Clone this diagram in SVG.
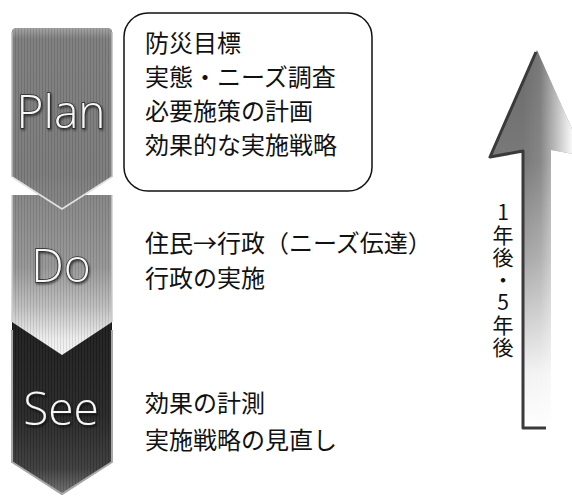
<svg xmlns="http://www.w3.org/2000/svg" width="572" height="496" viewBox="0 0 572 496">
<defs>
<style>
.jp{font-family:"Noto Sans CJK JP","Noto Sans",sans-serif;font-size:24px;fill:#111}
.lbl{font-family:"Open Sans","Noto Sans",sans-serif;font-weight:300;font-size:46px;fill:#f7f7f7;stroke:#2a2a2a;stroke-width:1.4;paint-order:stroke;text-anchor:middle}
.vt{font-family:"Noto Sans CJK JP","Noto Sans",sans-serif;font-size:21px;fill:#111;writing-mode:vertical-rl;text-orientation:upright;letter-spacing:1.5px}
</style>
<pattern id="stripes" width="3" height="10" patternUnits="userSpaceOnUse">
<rect x="0" y="0" width="1" height="10" fill="#000" opacity="0.09"/>
<rect x="1.5" y="0" width="1" height="10" fill="#fff" opacity="0.07"/>
</pattern>
<filter id="sh" x="-10%" y="-10%" width="130%" height="130%">
<feDropShadow dx="1" dy="1.5" stdDeviation="0.8" flood-color="#000" flood-opacity="0.6"/>
</filter>
<linearGradient id="gPlan" x1="0" y1="28" x2="0" y2="210" gradientUnits="userSpaceOnUse">
<stop offset="0" stop-color="#a0a0a0"/>
<stop offset="0.06" stop-color="#7c7c7c"/>
<stop offset="0.8" stop-color="#7a7a7a"/>
<stop offset="1" stop-color="#858585"/>
</linearGradient>
<linearGradient id="gDo" x1="0" y1="195" x2="0" y2="355" gradientUnits="userSpaceOnUse">
<stop offset="0" stop-color="#858585"/>
<stop offset="0.45" stop-color="#959595"/>
<stop offset="0.7" stop-color="#bdbdbd"/>
<stop offset="0.9" stop-color="#ececec"/>
<stop offset="1" stop-color="#f4f4f4"/>
</linearGradient>
<linearGradient id="gSee" x1="0" y1="318" x2="0" y2="495" gradientUnits="userSpaceOnUse">
<stop offset="0" stop-color="#1c1c1c"/>
<stop offset="0.55" stop-color="#262626"/>
<stop offset="0.85" stop-color="#3c3c3c"/>
<stop offset="1" stop-color="#707070"/>
</linearGradient>
<linearGradient id="gArrV" x1="0" y1="50" x2="0" y2="430" gradientUnits="userSpaceOnUse">
<stop offset="0" stop-color="#6a6a6a"/>
<stop offset="0.3" stop-color="#7a7a7a"/>
<stop offset="0.55" stop-color="#a8a8a8"/>
<stop offset="0.85" stop-color="#f2f2f2"/>
<stop offset="1" stop-color="#ffffff"/>
</linearGradient>
<linearGradient id="gArrH" x1="523" y1="0" x2="572" y2="0" gradientUnits="userSpaceOnUse">
<stop offset="0" stop-color="#fff" stop-opacity="0"/>
<stop offset="0.35" stop-color="#fff" stop-opacity="0.1"/>
<stop offset="1" stop-color="#fff" stop-opacity="0.95"/>
</linearGradient>
</defs>
<rect width="572" height="496" fill="#fff"/>

<g id="see">
<path d="M12,318 L112,318 L112,462 L62,495 L12,462 Z" fill="url(#gSee)"/>
<path d="M12,318 L112,318 L112,462 L62,495 L12,462 Z" fill="url(#stripes)"/>
<path d="M12,330 L12,462 L62,494 L112,462 L112,330" fill="none" stroke="#a8a8a8" stroke-width="2"/>
<text class="lbl" x="61" y="425" filter="url(#sh)">See</text>
</g>

<g id="do">
<path d="M12,195 L112,195 L112,322 L62,355 L12,322 Z" fill="url(#gDo)"/>
<path d="M12,195 L112,195 L112,322 L62,355 L12,322 Z" fill="url(#stripes)"/>
<path d="M12,195 L12,322 M112,195 L112,322" fill="none" stroke="#d0d0d0" stroke-width="1.5"/>
<text class="lbl" x="61" y="282" filter="url(#sh)">Do</text>
</g>

<g id="plan">
<path d="M12,32 Q12,28 16,28 L108,28 Q112,28 112,32 L112,177 L62,210 L12,177 Z" fill="url(#gPlan)"/>
<path d="M12,32 Q12,28 16,28 L108,28 Q112,28 112,32 L112,177 L62,210 L12,177 Z" fill="url(#stripes)"/>
<path d="M12,32 L12,177 M112,32 L112,177" fill="none" stroke="#bdbdbd" stroke-width="1.5"/>
<path d="M12,177 L62,209 L112,177" fill="none" stroke="#e2e2e2" stroke-width="1.5"/>
<text class="lbl" x="61" y="128" filter="url(#sh)">Plan</text>
</g>

<g id="plan-box">
<rect x="124" y="13" width="248" height="178" rx="24" ry="24" fill="#fff" stroke="#111" stroke-width="1.5"/>
<text class="jp" x="145" y="52">防災目標</text>
<text class="jp" x="145" y="86">実態・ニーズ調査</text>
<text class="jp" x="145" y="120">必要施策の計画</text>
<text class="jp" x="145" y="154">効果的な実施戦略</text>
</g>

<g id="do-text">
<text class="jp" x="145" y="252">住民→行政（ニーズ伝達）</text>
<text class="jp" x="145" y="287">行政の実施</text>
</g>

<g id="see-text">
<text class="jp" x="145" y="412">効果の計測</text>
<text class="jp" x="145" y="449">実施戦略の見直し</text>
</g>

<g id="time-arrow">
<path d="M537,50 L584,156 L551,150 L551,428 L523,428 L523,150 L490,157 Z" fill="url(#gArrV)"/>
<path d="M537,50 L584,156 L551,150 L551,428 L523,428 L523,150 L490,157 Z" fill="url(#gArrH)"/>
<path d="M536,52 L490,157 L523,151 L523,428 L546,428" fill="none" stroke="#3a3a3a" stroke-width="3" stroke-linejoin="round"/>
<text class="vt" x="503" y="202">1年後・5年後</text>
</g>
</svg>
